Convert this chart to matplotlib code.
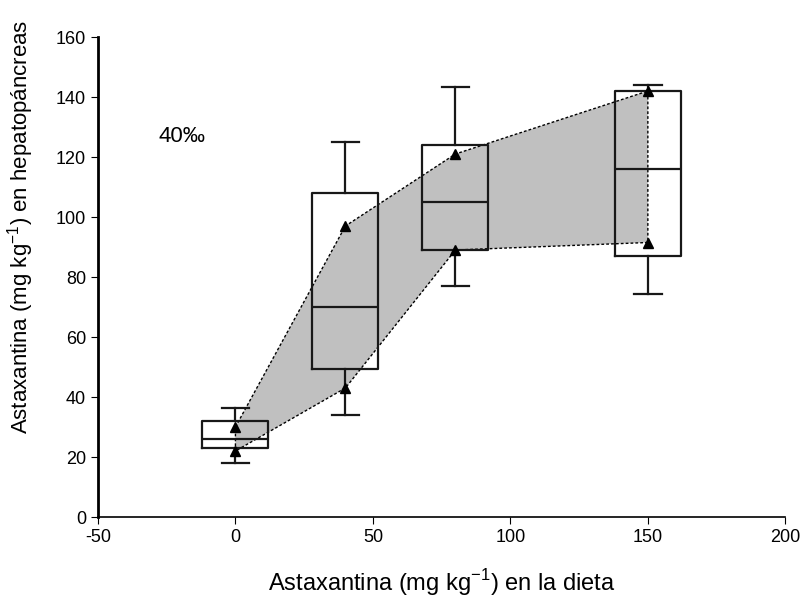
import matplotlib
matplotlib.use('Agg')
import matplotlib.pyplot as plt
import numpy as np

plt.rcParams['font.family'] = ['Liberation Sans', 'DejaVu Sans']
plt.rcParams['axes.unicode_minus'] = False

# dietary astaxanthin levels (mg/kg)
dieta = [0, 40, 80, 150]

# box plot stats
q1 = [23, 49.5, 89, 87]
mediana = [26, 70, 105, 116]
q3 = [32, 108, 124, 142]
bigote_inf = [18, 34, 77, 74.5]
bigote_sup = [36.5, 125, 143.5, 144]

# triangles (upper and lower edge of the shaded band)
tri_sup = [30, 97, 121, 142]
tri_inf = [22, 43, 89, 91.5]

fig = plt.figure(figsize=(8.03, 5.97), dpi=100)
ax = fig.add_axes([0.122, 0.134, 0.856, 0.804])

# shaded band
xs = dieta + dieta[::-1]
ys = tri_sup + tri_inf[::-1]
ax.fill(xs, ys, facecolor='#c0c0c0', edgecolor='black', linestyle=(0, (2, 1.5)),
        linewidth=1, zorder=2)

stats = []
for i in range(len(dieta)):
    stats.append({'med': mediana[i], 'q1': q1[i], 'q3': q3[i],
                  'whislo': bigote_inf[i], 'whishi': bigote_sup[i], 'fliers': []})

ax.bxp(stats, positions=dieta, widths=24, capwidths=10, showfliers=False,
       boxprops=dict(color='#181818', linewidth=1.6),
       medianprops=dict(color='#181818', linewidth=1.6),
       whiskerprops=dict(color='#181818', linewidth=1.6),
       capprops=dict(color='#181818', linewidth=1.6),
       manage_ticks=False, zorder=3)

ax.plot(dieta, tri_sup, linestyle='none', marker='^', color='black', markersize=7, zorder=4)
ax.plot(dieta, tri_inf, linestyle='none', marker='^', color='black', markersize=7, zorder=4)

ax.text(-28, 127, '40‰', fontsize=16, ha='left', va='center')

ax.set_xlim(-50, 200)
ax.set_ylim(0, 160)
ax.set_xticks([-50, 0, 50, 100, 150, 200])
ax.set_yticks(np.arange(0, 161, 20))
ax.spines['top'].set_visible(False)
ax.spines['right'].set_visible(False)
ax.spines['left'].set_linewidth(2)
ax.spines['bottom'].set_linewidth(1.2)
ax.tick_params(direction='out', length=5, labelsize=13)

ax.set_xlabel('Astaxantina (mg kg$^{\\mathregular{-1}}$) en la dieta', fontsize=17, labelpad=15)
ax.set_ylabel('Astaxantina (mg kg$^{\\mathregular{-1}}$) en hepatopáncreas', fontsize=16)
ax.yaxis.set_label_coords(-0.09, 0.605)

fig.savefig('out.png', dpi=100)
